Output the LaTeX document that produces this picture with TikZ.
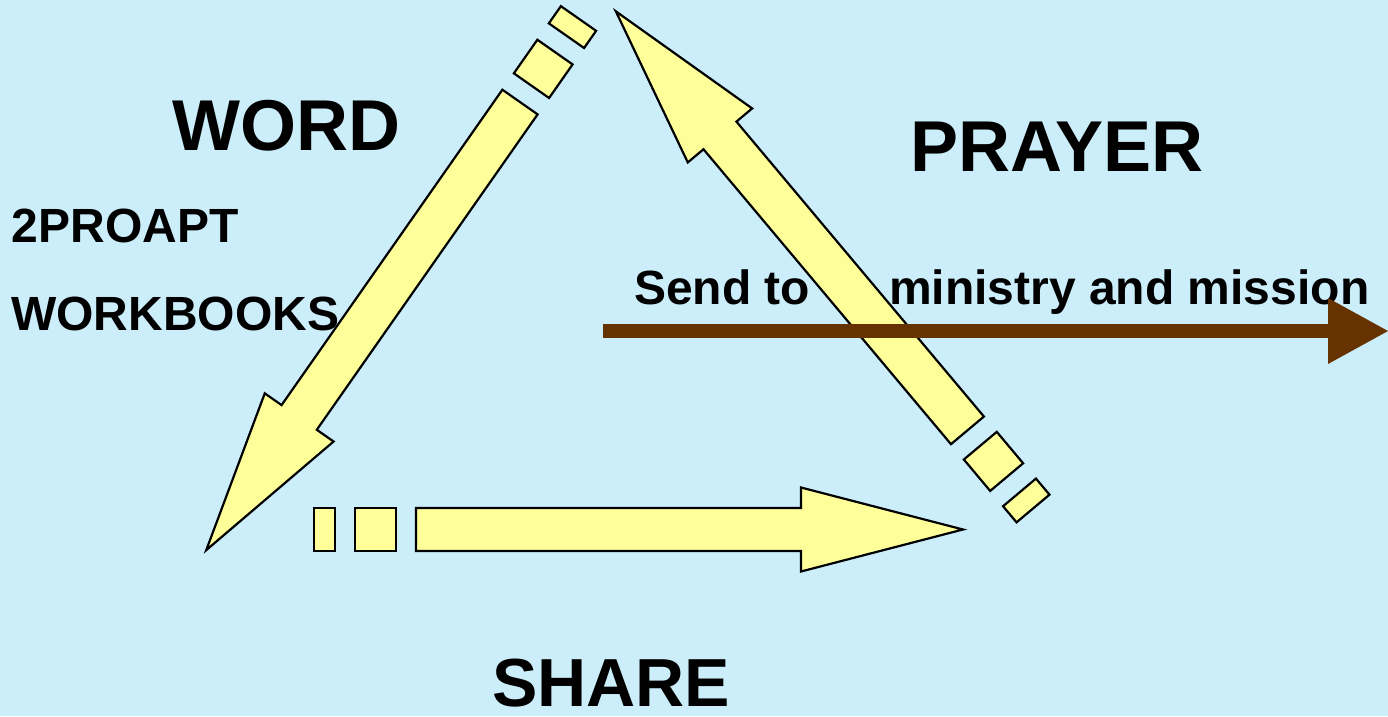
\documentclass[tikz,border=0pt]{standalone}
\usepackage{fontspec}
\setmainfont{Liberation Sans}
\usetikzlibrary{arrows.meta}
\definecolor{skyback}{RGB}{204,238,250}
\definecolor{padyellow}{RGB}{255,255,153}
\definecolor{sendbrown}{RGB}{102,51,0}

\tikzset{
  blockline/.style={fill=padyellow, draw=black, line width=2.2pt, line join=miter},
  % two pads, then the long arrow, all along +x
  cyclearrow/.pic={
    \filldraw[blockline] (0,-21.5) rectangle (21,21.5);
    \filldraw[blockline] (41,-21.5) rectangle (82,21.5);
    \filldraw[blockline] (102,-21.5) -- (487,-21.5) -- (487,-42) -- (649,0)
      -- (487,42) -- (487,21.5) -- (102,21.5) -- cycle;
  }
}

\begin{document}
\begin{tikzpicture}[
        x=1pt, y=1pt,
        bigword/.style={font=\fontsize{72}{80}\selectfont\bfseries, inner sep=0pt, anchor=base west},
        midword/.style={font=\fontsize{48}{56}\selectfont\bfseries, inner sep=0pt, anchor=base west},
        sendarrow/.style={draw=sendbrown, line width=14pt, -{Triangle[length=60pt, width=66pt, line width=0pt]}}
    ]
        \useasboundingbox (0,0) rectangle (1388,716);
        \fill[skyback] (0,0) rectangle (1388,716);

        \pic[rotate=235] at (578.5,697.5) {cyclearrow};
        \pic at (314,186.5) {cyclearrow};
        \pic[rotate=130] at (1033,207.5) {cyclearrow};

        \node[bigword] (word) at (172,565) {WORD};
        \node[bigword] (prayer) at (910,544) {PRAYER};
        \node[bigword, font=\fontsize{68}{76}\selectfont\bfseries] (share) at (492,10) {SHARE};
        \node[midword] (proapt) at (11.5,473) {2PROAPT};
        \node[midword] (workbooks) at (11,386) {WORKBOOKS};
        \node[midword] (send) at (634,412) {Send to\hspace{79pt}ministry and mission};

        \coordinate (sendstart) at (603,385);
        \coordinate (sendend) at (1388,385);
        \draw[sendarrow] (sendstart) -- (sendend);
    \end{tikzpicture}
\end{document}
